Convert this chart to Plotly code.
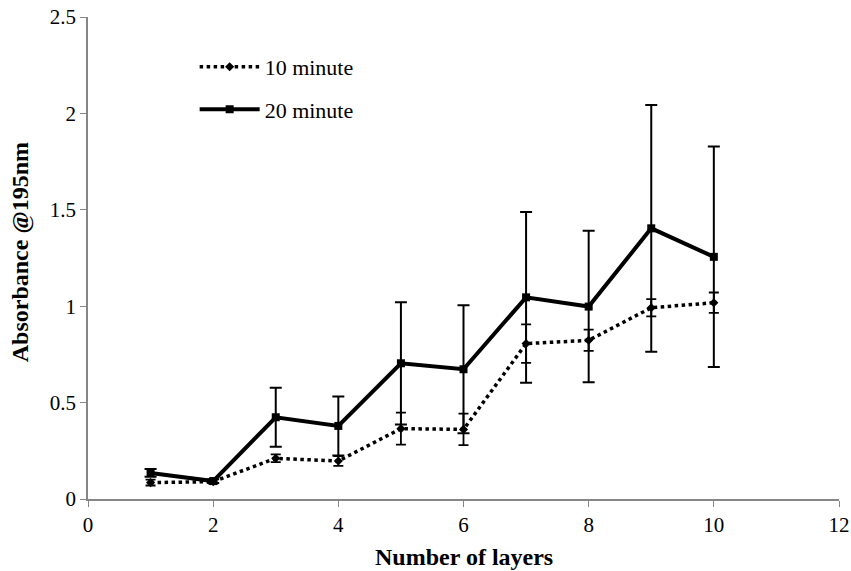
import plotly.graph_objects as go

layers = [1, 2, 3, 4, 5, 6, 7, 8, 9, 10]
min10 = [0.085, 0.09, 0.211, 0.197, 0.365, 0.361, 0.806, 0.823, 0.992, 1.018]
min10_err = [0.015, 0.01, 0.02, 0.025, 0.083, 0.082, 0.10, 0.055, 0.045, 0.053]
min20 = [0.135, 0.093, 0.424, 0.379, 0.704, 0.673, 1.046, 0.998, 1.404, 1.256]
min20_err = [0.02, 0.01, 0.153, 0.153, 0.317, 0.332, 0.443, 0.393, 0.640, 0.572]

x_title = "Number of layers"
y_title = "Absorbance @195nm"

font = "Liberation Serif"

fig = go.Figure()
fig.add_trace(go.Scatter(
    x=layers, y=min10, name="10 minute", mode="lines+markers",
    line=dict(color="black", width=3.5, dash="dot"),
    marker=dict(symbol="diamond", size=7, color="black"),
    error_y=dict(type="data", array=min10_err, color="black", thickness=1.8, width=5),
    legendgroup="a",
))
fig.add_trace(go.Scatter(
    x=layers, y=min20, name="20 minute", mode="lines+markers",
    line=dict(color="black", width=4),
    marker=dict(symbol="square", size=8, color="black"),
    error_y=dict(type="data", array=min20_err, color="black", thickness=2, width=6),
    legendgroup="b",
))

fig.update_layout(
    width=851, height=571,
    margin=dict(l=88, r=12, t=17, b=72),
    paper_bgcolor="white", plot_bgcolor="white",
    font=dict(family=font, size=20, color="black"),
    showlegend=True,
    legend=dict(x=0.142, y=0.94, xanchor="left", yanchor="top",
                bgcolor="rgba(0,0,0,0)", font=dict(family=font, size=22, color="black"),
                traceorder="grouped", tracegroupgap=11, itemwidth=60),
    xaxis=dict(range=[0, 12], dtick=2, tick0=0, showgrid=False, zeroline=False,
               showline=True, linecolor="#868686", linewidth=1.5, automargin=False,
               ticks="outside", tickcolor="#868686", ticklen=6,
               tickfont=dict(family=font, size=21, color="black")),
    yaxis=dict(range=[0, 2.5], dtick=0.5, tick0=0, showgrid=False, zeroline=False,
               showline=True, linecolor="#868686", linewidth=1.5, automargin=False,
               ticks="outside", tickcolor="#868686", ticklen=6,
               tickfont=dict(family=font, size=21, color="black")),
    annotations=[
        dict(text="<b>" + x_title + "</b>", xref="paper", yref="paper",
             x=0.5, y=-0.12, xanchor="center", yanchor="middle",
             showarrow=False, font=dict(family=font, size=24, color="black")),
        dict(text="<b>" + y_title + "</b>", xref="paper", yref="paper",
             x=-0.0905, y=0.512, xanchor="center", yanchor="middle", textangle=-90,
             showarrow=False, font=dict(family=font, size=24, color="black")),
    ],
)

fig.write_html("out.html")
